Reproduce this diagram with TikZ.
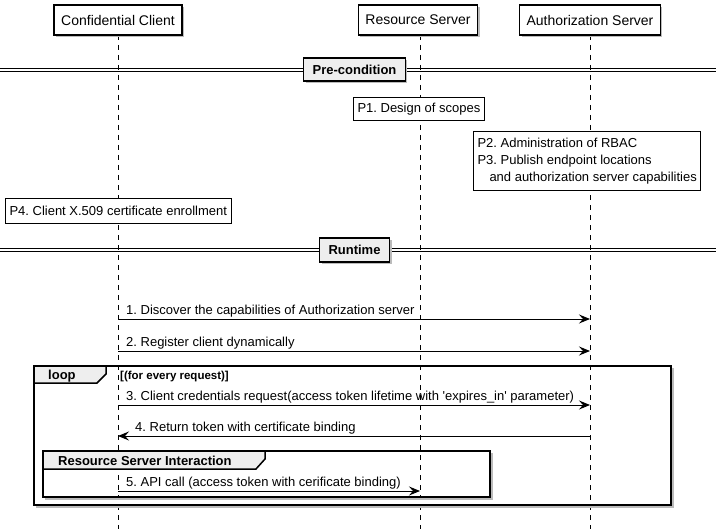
\documentclass[tikz,border=0pt]{standalone}
\usepackage{fontspec}
\setmainfont{Liberation Sans}
\usetikzlibrary{arrows.meta,shadows}
\frenchspacing
\hyphenpenalty=10000
\definecolor{tabgray}{HTML}{EEEEEE}
\definecolor{shadowgray}{HTML}{BBBBBB}
\tikzset{
  px/.style={x=1bp,y=-1bp},
  fshadow/.style={drop shadow={shadow xshift=2bp,shadow yshift=-2bp,fill=shadowgray,opacity=1}},
  participant/.style={draw,line width=1.5bp,fill=white,minimum height=30bp,inner xsep=7bp,
    font=\fontsize{14bp}{16bp}\selectfont,fshadow},
  notebox/.style={draw,line width=1bp,fill=white,inner xsep=4bp,inner ysep=0bp,align=left,
    anchor=north west,font=\fontsize{13bp}{17bp}\selectfont},
  lifeline/.style={line width=1bp,dash pattern=on 5bp off 5bp},
  msg/.style={line width=1bp,-{Stealth[length=11bp,width=9bp,inset=4bp]}},
  msglabel/.style={anchor=base west,inner sep=0pt,font=\fontsize{13bp}{15bp}\selectfont},
  divline/.style={line width=1bp},
  divbox/.style={draw,line width=1.5bp,fill=tabgray,minimum height=23bp,inner xsep=9bp,
    font=\fontsize{13bp}{15bp}\selectfont\bfseries,fshadow},
  framebox/.style={draw,line width=2bp},
  framebg/.style={draw=shadowgray,line width=2bp},
  tab/.style={draw,line width=1.5bp,fill=tabgray},
  tablabel/.style={anchor=base west,inner sep=0pt,font=\fontsize{13bp}{15bp}\selectfont\bfseries},
  guard/.style={anchor=base west,inner sep=0pt,font=\fontsize{11.5bp}{13bp}\selectfont\bfseries},
}
\begin{document}
\begin{tikzpicture}[px]
\useasboundingbox (0,0) rectangle (716,529);
% lifeline coordinates
\coordinate (cct) at (118,35); \coordinate (ccb) at (118,529);
\coordinate (rst) at (420,35); \coordinate (rsb) at (420,529);
\coordinate (ast) at (590,35); \coordinate (asb) at (590,529);
\draw[lifeline] (cct) -- (ccb);
\draw[lifeline] (rst) -- (rsb);
\draw[lifeline] (ast) -- (asb);
% participants
\node[participant] (cc) at (118,20) {Confidential Client};
\node[participant] (rs) at (418,20) {Resource Server};
\node[participant] (as) at (590,20) {Authorization Server};
% pre-condition divider
\coordinate (d1l) at (0,68.5); \coordinate (d1r) at (716,68.5);
\coordinate (d1l2) at (0,71.8); \coordinate (d1r2) at (716,71.8);
\draw[divline] (d1l) -- (d1r);
\draw[divline] (d1l2) -- (d1r2);
\node[divbox] (pre) at (354.5,69.5) {Pre-condition};
% notes
\node[notebox,minimum height=23bp] (p1) at (353,97) {P1. Design of scopes};
\node[notebox,minimum height=59bp] (p23) at (473,131)
  {P2. Administration of RBAC\\P3. Publish endpoint locations\\\hspace*{12bp}and authorization server capabilities};
\node[notebox,minimum height=25bp] (p4) at (5,198) {P4. Client X.509 certificate enrollment};
% runtime divider
\coordinate (d2l) at (0,248.3); \coordinate (d2r) at (716,248.3);
\coordinate (d2l2) at (0,251.6); \coordinate (d2r2) at (716,251.6);
\draw[divline] (d2l) -- (d2r);
\draw[divline] (d2l2) -- (d2r2);
\node[divbox,minimum height=24bp] (rt) at (354.5,250) {Runtime};
% messages 1-2
\coordinate (m1a) at (118,319); \coordinate (m1b) at (590,319);
\draw[msg] (m1a) -- (m1b);
\node[msglabel] (l1) at (126,314.5) {1. Discover the capabilities of Authorization server};
\coordinate (m2a) at (118,351); \coordinate (m2b) at (590,351);
\draw[msg] (m2a) -- (m2b);
\node[msglabel] (l2) at (126,346.5) {2. Register client dynamically};
% loop frame
\coordinate (lpA) at (34,366); \coordinate (lpB) at (671,505);
\draw[framebg] (36,507) -- (673,507) -- (673,368);
\draw[framebox] (lpA) rectangle (lpB);
\draw[tab] (34,366) -- (106,366) -- (106,374) -- (97,383) -- (34,383) -- cycle;
\draw[framebox] (lpA) -- (671,366);
\node[tablabel] (lploop) at (48,379.5) {loop};
\node[guard] (lpg) at (120,379) {[(for every request)]};
% messages 3-4
\coordinate (m3a) at (118,405); \coordinate (m3b) at (590,405);
\draw[msg] (m3a) -- (m3b);
\node[msglabel] (l3) at (126,400.5) {3. Client credentials request(access token lifetime with \textquotesingle expires\_in\textquotesingle\ parameter)};
\coordinate (m4a) at (590,436); \coordinate (m4b) at (118,436);
\draw[msg] (m4a) -- (m4b);
\node[msglabel] (l4) at (135,431.5) {4. Return token with certificate binding};
% group frame
\coordinate (grA) at (43,451); \coordinate (grB) at (490,497);
\draw[framebg] (45,499) -- (492,499) -- (492,453);
\draw[tab] (43,451) -- (265,451) -- (265,459) -- (256,469) -- (43,469) -- cycle;
\draw[framebox] (grA) rectangle (grB);
\node[tablabel] (grl) at (58,465.5) {Resource Server Interaction};
% message 5
\coordinate (m5a) at (118,491); \coordinate (m5b) at (420,491);
\draw[msg] (m5a) -- (m5b);
\node[msglabel] (l5) at (126,486.5) {5. API call (access token with cerificate binding)};
\end{tikzpicture}
\end{document}
